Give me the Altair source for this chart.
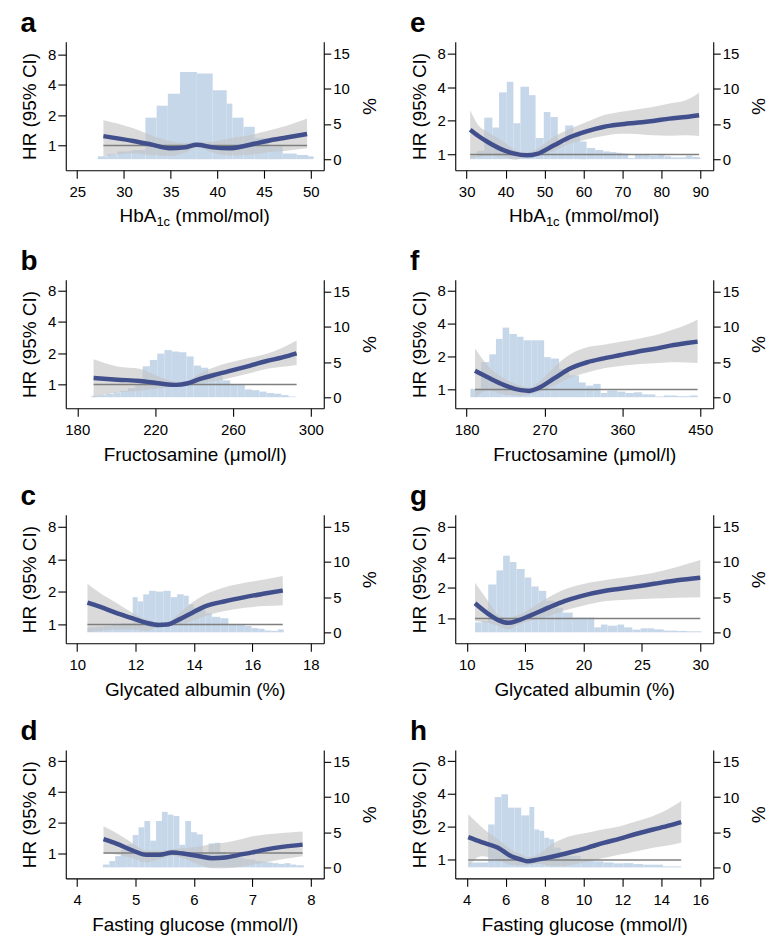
import altair as alt
import pandas as pd

FONT = "Liberation Sans"
W, H = 259, 129
PCT_DOMAIN = [-1.57, 16.71]

# ---------------- panel a : HbA1c (mmol/mol), left ----------------
a_hist_edges = [27.2, 28.2, 29.3, 30.8, 32.3, 33.5, 34.7, 36.0, 37.8, 39.5, 41.0, 41.6, 42.8, 44.0, 45.5, 47.0, 48.5, 49.7, 50.3]
a_hist_pct = [0.4, 0.7, 1.1, 1.3, 5.9, 7.6, 9.3, 12.4, 12.2, 9.8, 7.9, 5.9, 4.6, 3.0, 1.8, 0.8, 0.6, 0.4]
a_x = [27.8, 31.0, 32.8, 34.9, 36.5, 37.8, 39.5, 41.3, 43.5, 45.3, 47.4, 49.6]
a_hr = [1.24, 1.11, 1.03, 0.94, 0.96, 1.02, 0.96, 0.94, 1.02, 1.11, 1.20, 1.30]
a_lo = [0.78, 0.84, 0.81, 0.79, 0.85, 0.96, 0.85, 0.80, 0.81, 0.86, 0.89, 0.94]
a_hi = [1.78, 1.48, 1.27, 1.11, 1.06, 1.07, 1.09, 1.18, 1.27, 1.39, 1.57, 1.85]

# ---------------- panel b : Fructosamine, left ----------------
b_hist_edges = [187.3, 191.1, 194.8, 198.6, 202.3, 206.1, 209.8, 213.6, 217.3, 221.1, 224.8, 228.6, 232.3, 236.1, 239.8,
                243.6, 247.3, 251.1, 254.8, 258.6, 262.3, 266.1, 269.8, 273.6, 277.3, 281.1, 284.8, 288.6, 292.3]
b_hist_pct = [0.2, 0.3, 0.5, 0.7, 0.9, 1.3, 1.8, 4.4, 5.3, 6.2, 6.7, 6.5, 6.4, 5.8, 4.5, 4.2, 3.5, 3.0, 2.4, 1.8,
              1.8, 1.1, 1.0, 0.8, 0.6, 0.5, 0.3, 0.1]
b_x = [188.4, 200.6, 212.5, 222.7, 231.2, 236.3, 243.1, 251.5, 260.0, 268.5, 276.9, 285.4, 292.7]
b_hr = [1.15, 1.11, 1.08, 1.02, 0.99, 1.02, 1.13, 1.25, 1.37, 1.51, 1.67, 1.82, 1.99]
b_lo = [0.75, 0.84, 0.87, 0.92, 0.96, 0.98, 1.03, 1.08, 1.17, 1.28, 1.41, 1.48, 1.54]
b_hi = [1.75, 1.49, 1.41, 1.17, 1.06, 1.08, 1.28, 1.49, 1.65, 1.80, 1.96, 2.25, 2.64]

# ---------------- panel c : Glycated albumin, left ----------------
c_hist_edges = [10.35, 10.6, 10.9, 11.2, 11.5, 11.9, 12.07, 12.26, 12.46, 12.69, 12.95, 13.2, 13.42, 13.65, 13.82,
                13.99, 14.2, 14.4, 14.61, 14.9, 15.18, 15.45, 15.74, 15.97, 16.2, 16.42, 16.65, 16.87, 17.07]
c_hist_pct = [0.7, 0.8, 0.9, 1.1, 1.3, 5.0, 4.4, 5.4, 5.9, 5.8, 5.9, 5.0, 5.4, 5.2, 4.0, 3.5, 3.1, 2.7, 2.2, 2.0,
              1.2, 1.1, 0.9, 0.6, 0.5, 0.25, 0.2, 0.4]
c_x = [10.35, 10.77, 11.33, 11.9, 12.35, 12.8, 13.08, 13.48, 13.93, 14.38, 15.06, 15.74, 16.42, 17.04]
c_hr = [1.59, 1.46, 1.28, 1.14, 1.04, 0.99, 1.0, 1.11, 1.28, 1.47, 1.64, 1.79, 1.93, 2.06]
c_lo = [0.85, 0.87, 0.9, 0.9, 0.87, 0.95, 0.96, 1.0, 1.07, 1.19, 1.33, 1.43, 1.48, 1.51]
c_hi = [2.38, 1.96, 1.59, 1.28, 1.11, 1.05, 1.05, 1.26, 1.59, 1.89, 2.21, 2.43, 2.6, 2.8]

# ---------------- panel d : Fasting glucose, left ----------------
d_hist_edges = [4.44, 4.55, 4.65, 4.75, 4.85, 4.95, 5.05, 5.15, 5.25, 5.35, 5.45, 5.55, 5.65, 5.75, 5.85, 5.95,
                6.05, 6.15, 6.25, 6.35, 6.45, 6.55, 6.65, 6.75, 6.85, 6.95, 7.05, 7.15, 7.25, 7.35, 7.45, 7.55,
                7.65, 7.75, 7.88]
d_hist_pct = [0.4, 0.9, 1.6, 2.5, 3.3, 4.6, 5.7, 6.6, 3.8, 6.6, 7.9, 7.5, 7.3, 3.2, 6.6, 5.0, 4.7, 2.0, 3.4, 3.5,
              2.2, 1.8, 1.5, 1.4, 1.2, 1.1, 0.9, 0.8, 0.7, 0.6, 0.5, 0.6, 0.4, 0.3]
d_x = [4.45, 4.67, 4.95, 5.18, 5.41, 5.63, 5.86, 6.09, 6.31, 6.54, 6.77, 7.0, 7.22, 7.51, 7.86]
d_hr = [1.37, 1.24, 1.06, 0.96, 0.96, 1.015, 0.98, 0.93, 0.89, 0.906, 0.96, 1.015, 1.08, 1.15, 1.21]
d_lo = [0.99, 0.97, 0.89, 0.81, 0.87, 0.94, 0.87, 0.77, 0.71, 0.71, 0.73, 0.77, 0.81, 0.87, 0.93]
d_hi = [1.83, 1.57, 1.25, 1.06, 1.05, 1.09, 1.12, 1.16, 1.23, 1.27, 1.35, 1.46, 1.52, 1.57, 1.63]

# ---------------- panel e : HbA1c (mmol/mol), right ----------------
e_hist_edges = [30.9, 32.6, 34.5, 36.6, 38.3, 40.3, 42.0, 43.8, 46.0, 47.7, 49.8, 51.5, 53.4, 55.3, 57.4, 59.1,
                60.8, 63.0, 65.1, 66.8, 68.5, 70.0, 71.5, 73.2, 75.1, 77.0, 79.1, 80.8, 82.5, 84.4, 86.3, 88.0, 90.0]
e_hist_pct = [0.5, 1.2, 5.9, 4.5, 9.5, 11.0, 5.1, 10.3, 9.1, 3.0, 6.7, 6.0, 2.2, 4.8, 3.4, 2.5, 1.6, 1.3, 1.1, 1.0,
              0.9, 0.8, 0.15, 0.7, 0.7, 0.5, 0.75, 0.4, 0.25, 0.25, 0.5, 0.3]
e_x = [30.9, 33.0, 35.4, 39.6, 42.0, 45.5, 48.1, 52.3, 56.6, 60.8, 65.1, 69.3, 73.6, 77.8, 82.1, 86.3, 89.7]
e_hr = [1.66, 1.46, 1.29, 1.086, 1.02, 0.98, 1.01, 1.2, 1.43, 1.61, 1.76, 1.85, 1.92, 1.99, 2.09, 2.16, 2.24]
e_lo = [0.915, 0.95, 0.97, 0.95, 0.9, 0.94, 0.97, 1.06, 1.25, 1.36, 1.46, 1.53, 1.52, 1.48, 1.47, 1.48, 1.46]
e_hi = [2.48, 1.82, 1.59, 1.29, 1.12, 1.035, 1.12, 1.43, 1.7, 1.95, 2.24, 2.4, 2.52, 2.66, 2.85, 3.05, 3.57]

# ---------------- panel f : Fructosamine, right ----------------
f_hist_edges = [184.2, 196.5, 206.1, 213.8, 221.5, 229.2, 238.0, 245.7, 254.9, 262.2, 269.5, 277.2, 286.8, 298.3,
                309.8, 317.5, 326.3, 334.8, 342.4, 354.0, 363.6, 373.2, 382.8, 390.5, 398.2, 407.7, 415.4, 423.1,
                430.8, 438.4, 446.9]
f_hist_pct = [1.2, 5.0, 6.1, 8.3, 9.9, 9.0, 8.6, 8.1, 8.1, 8.1, 5.7, 5.5, 4.0, 3.1, 2.1, 1.65, 1.9, 0.6, 0.95, 0.8,
              0.6, 0.7, 0.4, 0.4, 0.1, 0.25, 0.25, 0.15, 0.15, 0.25]
f_x = [189.6, 204.2, 223.4, 242.6, 252.2, 261.8, 281.0, 300.2, 319.4, 338.6, 357.8, 377.0, 396.2, 415.4, 434.6, 446.9]
f_hr = [1.48, 1.29, 1.095, 0.986, 0.97, 1.02, 1.26, 1.56, 1.77, 1.92, 2.06, 2.21, 2.34, 2.51, 2.65, 2.73]
f_lo = [0.845, 0.98, 0.9, 0.875, 0.9, 0.94, 1.08, 1.29, 1.43, 1.56, 1.64, 1.7, 1.73, 1.77, 1.76, 1.74]
f_hi = [2.37, 1.65, 1.26, 1.08, 1.04, 1.14, 1.59, 2.1, 2.42, 2.55, 2.72, 2.89, 3.1, 3.44, 3.9, 4.34]

# ---------------- panel g : Glycated albumin, right ----------------
g_hist_edges = [10.71, 11.27, 11.84, 12.55, 13.12, 13.69, 14.26, 14.96, 15.53, 16.16, 16.81, 17.52, 18.23, 19.08,
                19.79, 20.36, 20.92, 21.49, 22.06, 22.91, 23.48, 24.18, 24.89, 25.46, 26.03, 26.88, 27.45, 28.01,
                28.87, 29.48, 30.09]
g_hist_pct = [1.4, 1.6, 6.8, 8.8, 10.9, 10.0, 9.0, 7.8, 6.5, 5.9, 4.5, 3.5, 2.8, 2.1, 2.1, 2.1, 0.7, 1.1, 0.94, 1.1,
              0.7, 0.38, 0.57, 0.57, 0.42, 0.24, 0.24, 0.19, 0.14, 0.14]
g_x = [10.71, 11.84, 12.7, 13.55, 14.4, 15.53, 16.95, 18.37, 19.79, 21.77, 23.76, 26.03, 28.01, 30.0]
g_hr = [1.41, 1.11, 0.963, 0.906, 0.956, 1.08, 1.27, 1.48, 1.66, 1.86, 2.0, 2.19, 2.37, 2.51]
g_lo = [0.94, 0.906, 0.84, 0.78, 0.87, 0.956, 1.05, 1.2, 1.32, 1.48, 1.53, 1.57, 1.6, 1.62]
g_hi = [2.24, 1.48, 1.09, 1.015, 1.08, 1.27, 1.6, 1.93, 2.16, 2.38, 2.55, 2.81, 3.2, 3.75]

# ---------------- panel h : Fasting glucose, right ----------------
h_hist_edges = [4.08, 4.42, 5.10, 5.44, 5.78, 6.12, 6.46, 6.80, 7.22, 7.47, 7.73, 7.98, 8.24, 8.49, 8.83, 9.25,
                9.85, 10.53, 11.03, 11.54, 12.05, 12.56, 13.07, 13.58, 14.08, 14.55, 15.02]
h_hist_pct = [0.7, 0.7, 6.1, 10.0, 10.4, 8.5, 8.5, 7.4, 8.6, 5.4, 5.2, 4.2, 4.0, 2.8, 2.1, 1.65, 0.94, 0.85, 0.7,
              0.57, 0.6, 0.47, 0.38, 0.38, 0.14, 0.14]
h_x = [4.08, 4.76, 5.61, 6.29, 6.8, 7.14, 7.64, 8.49, 9.34, 10.19, 11.03, 11.88, 12.73, 13.58, 14.42, 15.02]
h_hr = [1.61, 1.45, 1.29, 1.08, 1.007, 0.972, 1.007, 1.08, 1.175, 1.29, 1.43, 1.56, 1.73, 1.89, 2.06, 2.21]
h_lo = [0.875, 1.08, 1.0, 0.9, 0.89, 0.9, 0.925, 0.875, 0.9, 0.97, 1.04, 1.12, 1.2, 1.29, 1.36, 1.43]
h_hi = [2.6, 1.99, 1.53, 1.24, 1.12, 1.065, 1.12, 1.43, 1.65, 1.77, 1.9, 2.03, 2.25, 2.51, 2.95, 3.44]

HIST_COLOR = "#c6d7e9"
BAND_COLOR = "#c4c4c4"
LINE_COLOR = "#41508d"
REF_COLOR = "#7f7f7f"


def panel(letter, xtitle, xdomain, xticks, hr_domain, edges, pct, cx, chr_, clo, chi, sub=False):
    hist_df = pd.DataFrame({"x0": edges[:-1], "x1": edges[1:], "pct": pct})
    curve_df = pd.DataFrame({"x": cx, "hr": chr_, "lo": clo, "hi": chi})
    ref_df = pd.DataFrame({"x": [cx[0]], "x1": [cx[-1]], "ref": [1.0]})

    xs = alt.Scale(domain=xdomain, nice=False, zero=False)
    ys = alt.Scale(type="log", domain=hr_domain, nice=False)
    ps = alt.Scale(domain=PCT_DOMAIN, nice=False, zero=False)

    xaxis = alt.Axis(values=xticks, title=("" if sub else xtitle), tickSize=8,
                     labelPadding=6, titlePadding=8, format="d")
    yaxis = alt.Axis(orient="left", values=[1, 2, 4, 8], format="d", title="HR (95% CI)",
                     tickSize=8, labelPadding=2, titlePadding=8)
    paxis = alt.Axis(orient="right", values=[0, 5, 10, 15], title="%",
                     tickSize=7, labelPadding=2, titlePadding=9)

    hist = alt.Chart(hist_df).mark_rect(color=HIST_COLOR).encode(
        x=alt.X("x0:Q", scale=xs, axis=xaxis),
        x2="x1:Q",
        y=alt.Y("pct:Q", scale=ps, axis=paxis),
        y2=alt.datum(0),
    )

    band = alt.Chart(curve_df).mark_area(color=BAND_COLOR, opacity=0.62, interpolate="monotone").encode(
        x=alt.X("x:Q", scale=xs, axis=xaxis),
        y=alt.Y("lo:Q", scale=ys, axis=yaxis),
        y2="hi:Q",
    )

    ref = alt.Chart(ref_df).mark_rule(color=REF_COLOR, strokeWidth=1.5).encode(
        x=alt.X("x:Q", scale=xs, axis=xaxis),
        x2="x1:Q",
        y=alt.Y("ref:Q", scale=ys, axis=yaxis),
    )

    line = alt.Chart(curve_df).mark_line(color=LINE_COLOR, strokeWidth=4.5, interpolate="monotone").encode(
        x=alt.X("x:Q", scale=xs, axis=xaxis),
        y=alt.Y("hr:Q", scale=ys, axis=yaxis),
    )

    layers = [band, ref, line]
    if sub:
        dummy = pd.DataFrame({"k": [0]})
        base_y = H + 52
        x0 = W / 2 - 75.5
        t1 = alt.Chart(dummy).mark_text(text="HbA", align="left", baseline="alphabetic",
                                         fontSize=19, font=FONT, color="black").encode(
            x=alt.value(x0), y=alt.value(base_y))
        t2 = alt.Chart(dummy).mark_text(text="1c", align="left", baseline="alphabetic",
                                         fontSize=13, font=FONT, color="black").encode(
            x=alt.value(x0 + 37), y=alt.value(base_y + 4))
        t3 = alt.Chart(dummy).mark_text(text="(mmol/mol)", align="left", baseline="alphabetic",
                                         fontSize=19, font=FONT, color="black").encode(
            x=alt.value(x0 + 37 + 13.7 + 5.3), y=alt.value(base_y))
        layers += [t1, t2, t3]

    inner = alt.layer(*layers)
    return alt.layer(hist, inner).resolve_scale(y="independent").properties(
        width=W, height=H,
        title=alt.TitleParams(letter, anchor="start", frame="bounds", fontSize=28, fontWeight="bold",
                              font=FONT, color="black", offset=4),
    )


pa = panel("a", "HbA1c (mmol/mol)", [23.774, 51.386], [25, 30, 35, 40, 45, 50], [0.571, 10.65],
           a_hist_edges, a_hist_pct, a_x, a_hr, a_lo, a_hi, sub=True)
pb = panel("b", "Fructosamine (\u03bcmol/l)", [174.11, 306.65], [180, 220, 260, 300], [0.59, 10.15],
           b_hist_edges, b_hist_pct, b_x, b_hr, b_lo, b_hi)
pc = panel("c", "Glycated albumin (%)", [9.608, 18.444], [10, 12, 14, 16, 18], [0.671, 10.27],
           c_hist_edges, c_hist_pct, c_x, c_hr, c_lo, c_hi)
pd_ = panel("d", "Fasting glucose (mmol/l)", [3.804, 8.222], [4, 5, 6, 7, 8], [0.564, 10.3],
            d_hist_edges, d_hist_pct, d_x, d_hr, d_lo, d_hi)
pe = panel("e", "HbA1c (mmol/mol)", [27.06, 93.33], [30, 40, 50, 60, 70, 80, 90], [0.722, 10.2],
           e_hist_edges, e_hist_pct, e_x, e_hr, e_lo, e_hi, sub=True)
pf = panel("f", "Fructosamine (\u03bcmol/l)", [166.76, 464.97], [180, 270, 360, 450], [0.674, 10.0],
           f_hist_edges, f_hist_pct, f_x, f_hr, f_lo, f_hi)
pg = panel("g", "Glycated albumin (%)", [9.019, 31.109], [10, 15, 20, 25, 30], [0.57, 10.43],
           g_hist_edges, g_hist_pct, g_x, g_hr, g_lo, g_hi)
ph = panel("h", "Fasting glucose (mmol/l)", [3.411, 16.665], [4, 6, 8, 10, 12, 14, 16], [0.68, 10.0],
           h_hist_edges, h_hist_pct, h_x, h_hr, h_lo, h_hi)

rows = [alt.hconcat(l, r, spacing=32) for l, r in [(pa, pe), (pb, pf), (pc, pg), (pd_, ph)]]
chart = alt.vconcat(*rows, spacing=19).properties(
    padding={"left": 12, "top": 0, "right": 5, "bottom": 0},
    background="white",
).configure_view(stroke=None).configure_axis(
    grid=False, domainColor="black", tickColor="black", labelColor="black", titleColor="black",
    labelFont=FONT, titleFont=FONT, labelFontSize=15, titleFontSize=19, titleFontWeight="normal",
    domainWidth=1.1, tickWidth=1.1,
)

chart.save("out.html", embed_options={"renderer": "svg", "actions": False})
